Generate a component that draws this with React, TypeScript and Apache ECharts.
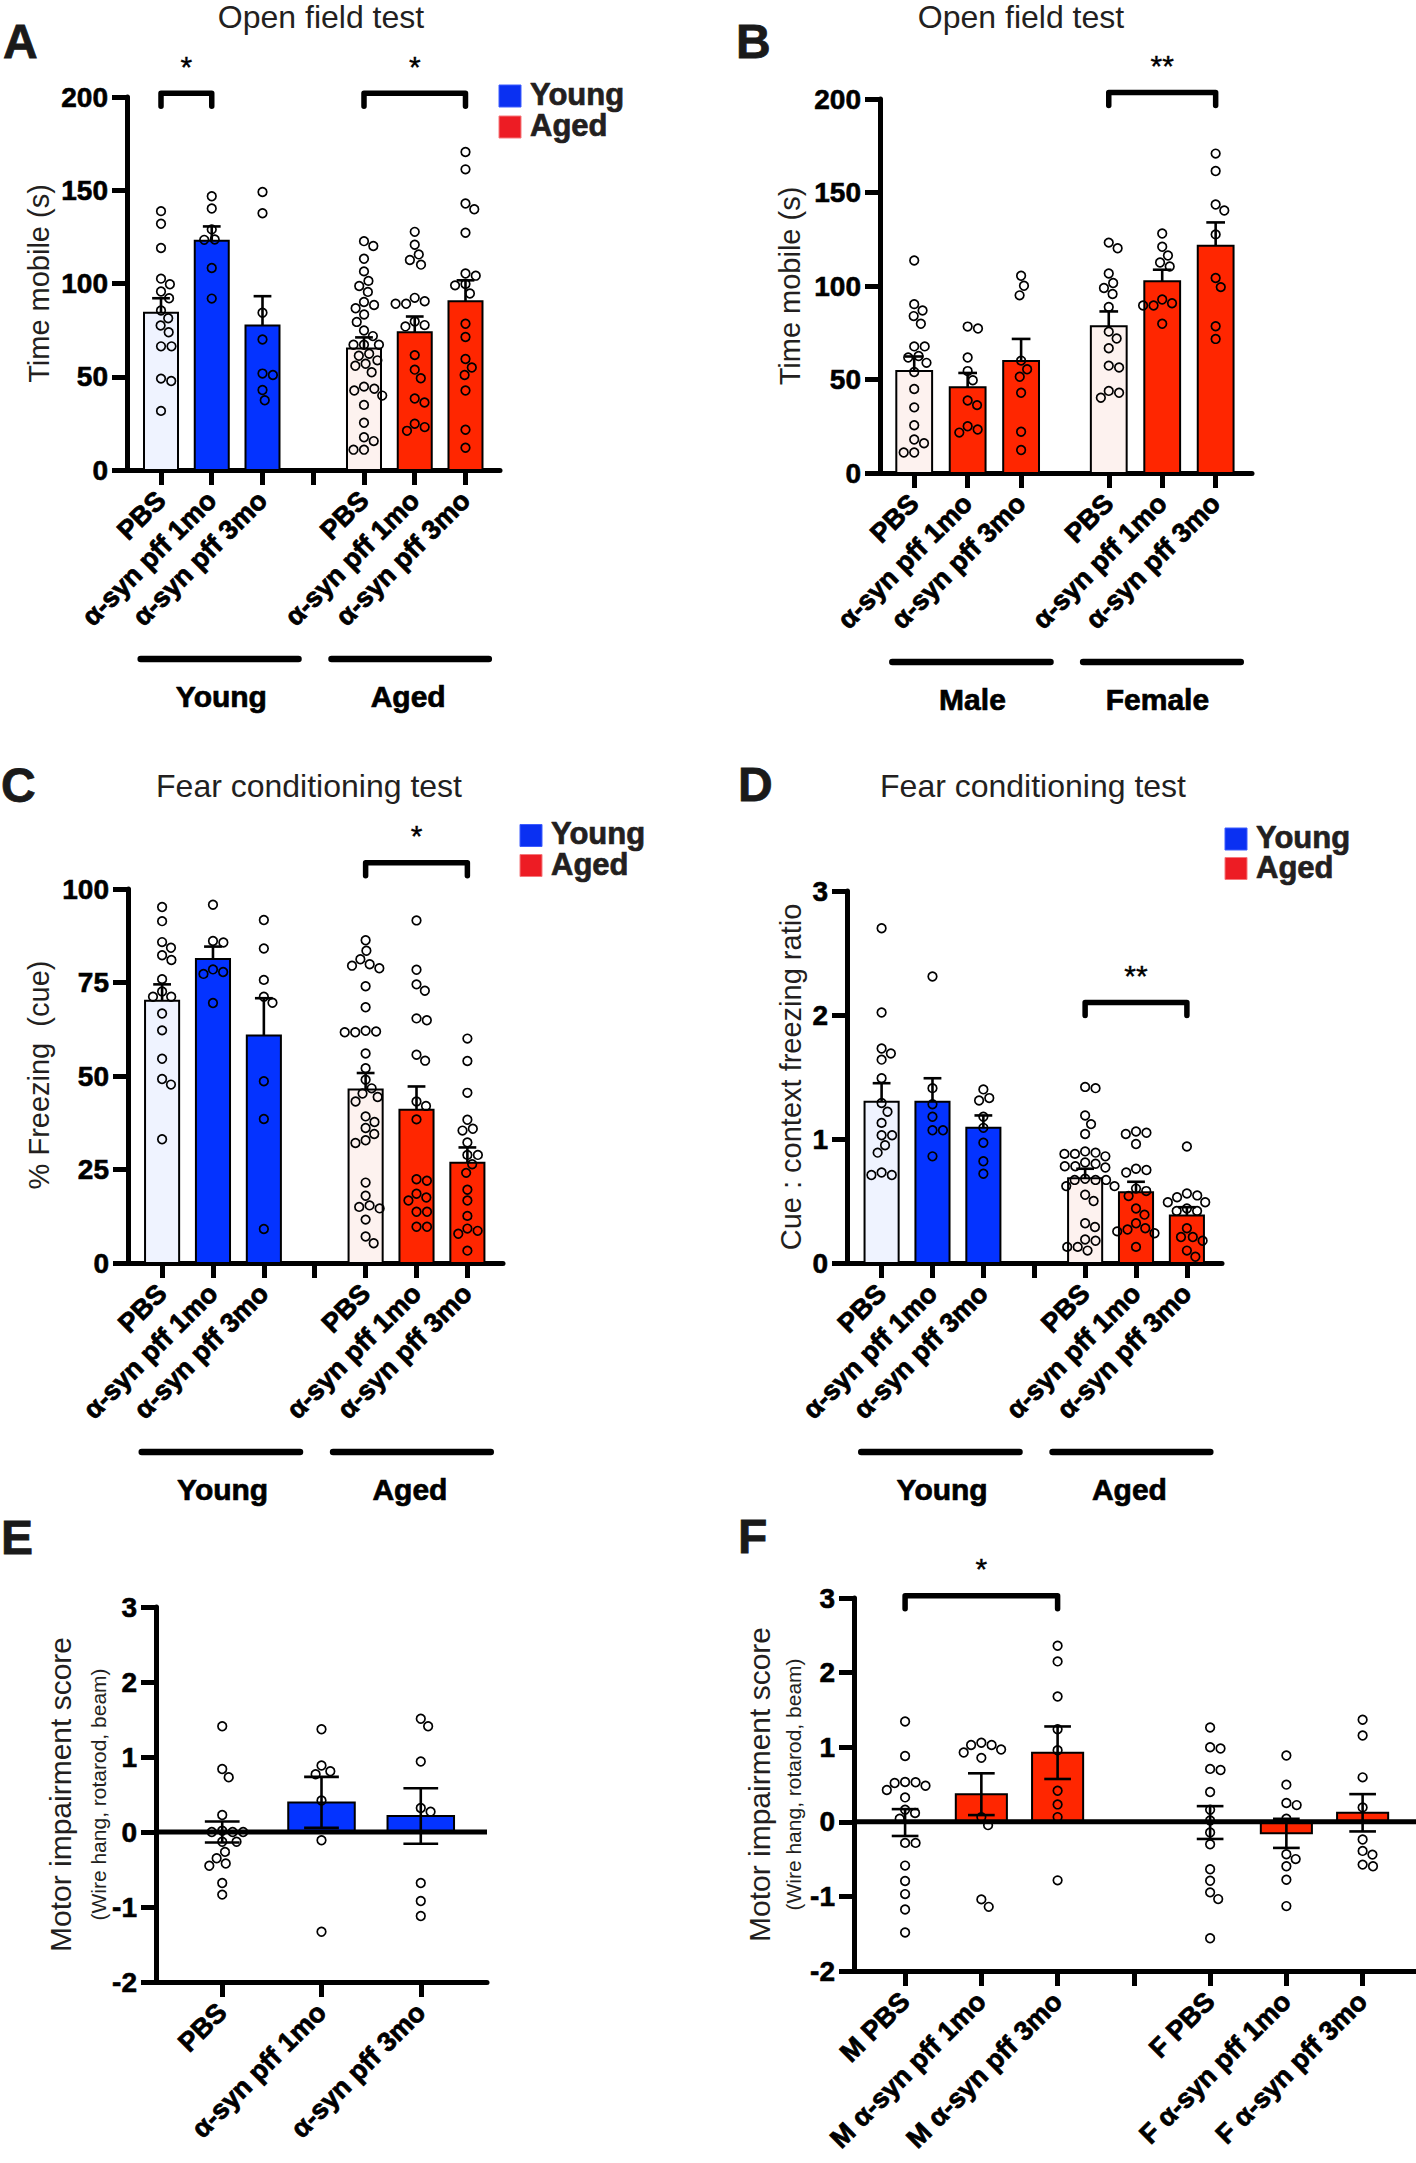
import React, { useEffect, useRef } from 'react';
import * as echarts from 'echarts';

const FONT = '"Liberation Sans", Arial, Helvetica, sans-serif';
const BLUE = '#0433ff';
const RED = '#ff2600';
const PBS_Y = '#eff3ff';
const PBS_A = '#fdf2ef';
const LEG_BLUE = '#0a30f2';
const LEG_RED = '#ed1c24';

// ---------------- categories ----------------
const ageGroupLabels = ['PBS', 'α-syn pff 1mo', 'α-syn pff 3mo', 'PBS', 'α-syn pff 1mo', 'α-syn pff 3mo'];
const motorLabels = ['PBS', 'α-syn pff 1mo', 'α-syn pff 3mo'];
const sexMotorLabels = ['M PBS', 'M α-syn pff 1mo', 'M α-syn pff 3mo', 'F PBS', 'F α-syn pff 1mo', 'F α-syn pff 3mo'];

// ---------------- A: open field, young vs aged ----------------
const A_means = [84.3, 122.9, 77.5, 65.2, 73.9, 90.5];
const A_sems = [7.8, 7.7, 15.7, 5.9, 8.4, 11.2];
const A_youngPBS = [138.8, 132, 119, 102.6, 99.6, 95.7, 92.1, 85.5, 81.4, 77.5, 73.9, 66.3, 66.3, 49, 47.7, 31.7];
const A_young1mo = [146.8, 140.2, 129, 123.4, 123.6, 108.3, 91.9];
const A_young3mo = [149.1, 137.7, 84.3, 70, 51.7, 50.9, 42.9, 37.4];
const A_agedPBS = [122.7, 120.1, 113.3, 106.5, 101.4, 98.7, 95.5, 90.1, 86.7, 88.5, 83.4, 79.4, 74.8, 71.8, 67.2, 67.2, 67.2, 62.3, 61.3, 58.8, 55.9, 57, 52.4, 44.7, 42.6, 43.6, 39.9, 34.9, 25.3, 15.5, 17.6, 10.9, 10.9];
const A_aged1mo = [127.7, 120.8, 115.6, 110.1, 112.6, 92.3, 89.1, 89.1, 90.5, 79.6, 77, 77.7, 61.6, 53.8, 49.2, 38.3, 36.2, 24.8, 21, 23];
const A_aged3mo = [170.5, 161.2, 139.8, 142.9, 127.2, 104.2, 105.4, 99, 99.7, 94.6, 78.4, 71.3, 59.5, 55, 50.9, 42.6, 21.6, 11.9];

// ---------------- B: open field, male vs female (aged) ----------------
const B_means = [54.5, 45.9, 59.9, 78.5, 102.6, 121.5];
const B_sems = [7.8, 7.6, 11.8, 7.9, 6.1, 12.5];
const B_malePBS = [113.6, 90.3, 86.9, 83.9, 79.8, 67.7, 67.7, 62.6, 61.8, 58.9, 54, 44.9, 35.1, 25.5, 15.9, 17.9, 11, 11];
const B_male1mo = [77.3, 78.3, 61.8, 54.5, 49.6, 38.8, 36.3, 25, 21.6, 23.3];
const B_male3mo = [105.5, 100.1, 95, 60.1, 55.5, 51.5, 42.9, 22.1, 12.3];
const B_femalePBS = [123.2, 120.2, 106.7, 101.6, 98.9, 95.7, 88.8, 75.6, 71.9, 66.7, 57.4, 56.4, 43.9, 40.2, 42.9];
const B_female1mo = [128.1, 121, 116.3, 112.6, 110.4, 92.8, 89.6, 89.6, 90.8, 79.8];
const B_female3mo = [170.8, 161.5, 140.4, 143.6, 127.6, 99.4, 104.3, 78.5, 71.7];

// ---------------- C: fear conditioning, % freezing ----------------
const C_means = [70.1, 81.3, 60.8, 46.4, 41.0, 26.8];
const C_sems = [4.4, 3.3, 10.0, 4.4, 6.2, 4.1];
const C_youngPBS = [95.2, 91.4, 85.8, 84.3, 82.3, 81, 75.9, 71.2, 71.2, 72.6, 66.7, 62.2, 54.6, 49.2, 47.7, 33.1];
const C_young1mo = [95.8, 85.7, 86.1, 77.8, 77.3, 78.5, 69.5];
const C_young3mo = [91.7, 84.1, 75.7, 71.2, 69.6, 48.6, 38.5, 9.1];
const C_agedPBS = [86.3, 83.5, 81.2, 79.5, 78.8, 79.9, 74, 68.4, 61.9, 61.7, 61.7, 62.1, 56, 52.1, 49, 46.7, 45.3, 44.4, 43.2, 39.2, 37.7, 36.1, 34.5, 32.8, 32.1, 21.5, 18, 15.4, 14.6, 15, 11.6, 7.1, 5.3];
const C_aged1mo = [91.6, 78.4, 72.8, 74.5, 65.4, 64.9, 54.1, 55.7, 43.2, 42, 38.4, 22.4, 22, 18.5, 16.7, 17.5, 13.7, 13.7, 9.7, 9.7];
const C_aged3mo = [60, 54, 45.5, 38.3, 35.9, 35.4, 32.2, 28.9, 28.9, 26.4, 24.1, 19.6, 16.7, 12.6, 8.6, 7.8, 9.2, 3.3];

// ---------------- D: cue : context freezing ratio ----------------
const D_means = [1.30, 1.30, 1.09, 0.684, 0.57, 0.384];
const D_sems = [0.15, 0.19, 0.10, 0.076, 0.085, 0.066];
const D_youngPBS = [2.70, 2.02, 1.73, 1.69, 1.64, 1.49, 1.29, 1.22, 1.13, 1.03, 1.03, 0.95, 0.89, 0.73, 0.71, 0.71];
const D_young1mo = [2.31, 1.41, 1.28, 1.18, 1.07, 1.07, 0.86];
const D_young3mo = [1.40, 1.31, 1.33, 1.18, 1.09, 0.97, 0.82, 0.72];
const D_agedPBS = [1.41, 1.42, 1.19, 1.12, 1.04, 0.89, 0.88, 0.90, 0.86, 0.88, 0.81, 0.80, 0.77, 0.78, 0.78, 0.67, 0.67, 0.68, 0.67, 0.62, 0.62, 0.55, 0.50, 0.29, 0.32, 0.19, 0.18, 0.13, 0.13, 0.10];
const D_aged1mo = [1.04, 1.06, 1.05, 0.96, 0.76, 0.73, 0.75, 0.60, 0.58, 0.54, 0.44, 0.39, 0.32, 0.28, 0.24, 0.255, 0.27, 0.13];
const D_aged3mo = [0.94, 0.56, 0.53, 0.545, 0.49, 0.49, 0.44, 0.42, 0.42, 0.28, 0.21, 0.21, 0.18, 0.10, 0.05];

// ---------------- E: motor impairment, young ----------------
const E_means = [0.0, 0.395, 0.214];
const E_sems = [0.14, 0.34, 0.37];
const E_PBS = [1.41, 0.84, 0.73, 0.226, 0, 0, 0, 0.017, -0.13, -0.13, -0.265, -0.35, -0.42, -0.45, -0.68, -0.835];
const E_1mo = [1.37, 0.81, 0.77, 0.886, 0.42, -0.11, -1.33];
const E_3mo = [1.51, 1.41, 0.94, 0.32, 0.27, -0.68, -0.92, -1.12];

// ---------------- F: motor impairment, aged male / female ----------------
const F_means = [-0.01, 0.37, 0.926, -0.01, -0.155, 0.121];
const F_sems = [0.18, 0.28, 0.352, 0.22, 0.195, 0.25];
const F_MPBS = [1.345, 0.883, 0.53, 0.426, 0.484, 0.52, 0.534, 0.327, 0.161, 0.117, 0.04, -0.283, -0.283, -0.587, -0.794, -0.969, -1.175, -1.484];
const F_M1mo = [1.03, 0.97, 1.03, 0.93, 1.06, 0.857, 0.063, -0.045, -1.04, -1.14];
const F_M3mo = [2.36, 2.15, 1.68, 1.24, 0.96, 0.417, 0.233, 0.063, -0.785];
const F_FPBS = [1.265, 1.0, 0.982, 0.695, 0.709, 0.4, 0.161, 0.018, -0.143, -0.3, -0.637, -0.79, -0.946, -1.036, -1.561];
const F_F1mo = [0.888, 0.498, 0.251, 0.224, 0.04, -0.435, -0.5, -0.596, -0.776, -1.13];
const F_F3mo = [1.368, 1.157, 0.596, 0.193, -0.238, -0.39, -0.44, -0.596, -0.574];

// ---------------- significance ----------------
const A_sig = [{ from: 0, to: 1, y: 202, text: '*' }, { from: 4, to: 6, y: 202, text: '*' }];
const B_sig = [{ from: 3.64, to: 5.64, y: 203.5, text: '**' }];
const C_sig = [{ from: 4, to: 6, y: 107, text: '*' }];
const D_sig = [{ from: 4, to: 6, y: 2.1, text: '**' }];
const F_sig = [{ from: 0, to: 2, y: 3.03, text: '*' }];

// ---------------- layout ----------------
const BAR = 0.67;
const CAP = 0.35;
const AXW = 5;
const ticks7 = [0, 1, 2, 3, 4, 5, 6];
const pos6 = [0, 1, 2, 4, 5, 6];
const posB = [0, 1, 2, 3.64, 4.64, 5.64];
const ageGroups = [
  { from: -0.4, to: 2.71, at: 1.19, text: 'Young' },
  { from: 3.36, to: 6.46, at: 4.87, text: 'Aged' },
];
const sexGroups = [
  { from: -0.41, to: 2.55, at: 1.09, text: 'Male' },
  { from: 3.16, to: 6.11, at: 4.55, text: 'Female' },
];

interface Panel {
  grid: { left: number; top: number; width: number; height: number };
  x: [number, number];
  y: [number, number, number];
  ticks: number[];
  pos: number[];
  labels: string[];
  means: number[];
  sems: number[];
  points: number[][];
  colors: string[];
  both: boolean;
  zero: boolean;
  sig: { from: number; to: number; y: number; text: string }[];
  groups: { from: number; to: number; at: number; text: string }[];
}

const panels: Panel[] = [
  {
    grid: { left: 127, top: 97, width: 373, height: 373 }, x: [-0.67, 6.68], y: [0, 200, 50],
    ticks: ticks7, pos: pos6, labels: ageGroupLabels, means: A_means, sems: A_sems,
    points: [A_youngPBS, A_young1mo, A_young3mo, A_agedPBS, A_aged1mo, A_aged3mo],
    colors: [PBS_Y, BLUE, BLUE, PBS_A, RED, RED], both: false, zero: false, sig: A_sig, groups: ageGroups,
  },
  {
    grid: { left: 880, top: 99, width: 372, height: 374 }, x: [-0.64, 6.32], y: [0, 200, 50],
    ticks: posB, pos: posB, labels: ageGroupLabels, means: B_means, sems: B_sems,
    points: [B_malePBS, B_male1mo, B_male3mo, B_femalePBS, B_female1mo, B_female3mo],
    colors: [PBS_A, RED, RED, PBS_A, RED, RED], both: false, zero: false, sig: B_sig, groups: sexGroups,
  },
  {
    grid: { left: 128, top: 889, width: 375, height: 374 }, x: [-0.67, 6.7], y: [0, 100, 25],
    ticks: ticks7, pos: pos6, labels: ageGroupLabels, means: C_means, sems: C_sems,
    points: [C_youngPBS, C_young1mo, C_young3mo, C_agedPBS, C_aged1mo, C_aged3mo],
    colors: [PBS_Y, BLUE, BLUE, PBS_A, RED, RED], both: false, zero: false, sig: C_sig, groups: ageGroups,
  },
  {
    grid: { left: 847, top: 891, width: 375, height: 372 }, x: [-0.68, 6.69], y: [0, 3, 1],
    ticks: ticks7, pos: pos6, labels: ageGroupLabels, means: D_means, sems: D_sems,
    points: [D_youngPBS, D_young1mo, D_young3mo, D_agedPBS, D_aged1mo, D_aged3mo],
    colors: [PBS_Y, BLUE, BLUE, PBS_A, RED, RED], both: false, zero: false, sig: D_sig, groups: ageGroups,
  },
  {
    grid: { left: 156, top: 1607, width: 331, height: 375 }, x: [-0.667, 2.667], y: [-2, 3, 1],
    ticks: [0, 1, 2], pos: [0, 1, 2], labels: motorLabels, means: E_means, sems: E_sems,
    points: [E_PBS, E_1mo, E_3mo],
    colors: [PBS_Y, BLUE, BLUE], both: true, zero: true, sig: [], groups: [],
  },
  {
    grid: { left: 854, top: 1598, width: 562, height: 373 }, x: [-0.67, 6.7], y: [-2, 3, 1],
    ticks: ticks7, pos: pos6, labels: sexMotorLabels, means: F_means, sems: F_sems,
    points: [F_MPBS, F_M1mo, F_M3mo, F_FPBS, F_F1mo, F_F3mo],
    colors: [PBS_A, RED, RED, PBS_A, RED, RED], both: true, zero: true, sig: F_sig, groups: [],
  },
];

// beeswarm: horizontal pixel offsets so circles do not overlap
function swarm(vals: number[], pxPerUnit: number, D: number): number[] {
  const order = vals.map((_, i) => i).sort((a, b) => vals[b] - vals[a]);
  const placed: { x: number; y: number }[] = [];
  const out = new Array(vals.length).fill(0);
  for (const i of order) {
    const y = vals[i] * pxPerUnit;
    const cands = [0];
    for (const p of placed) {
      const dy = Math.abs(p.y - y);
      if (dy < D) {
        const dx = Math.sqrt(D * D - dy * dy);
        cands.push(p.x + dx, p.x - dx);
      }
    }
    cands.sort((a, b) => Math.abs(a) - Math.abs(b) || b - a);
    let chosen = 0;
    for (const c of cands) {
      if (placed.every((p) => (p.x - c) ** 2 + (p.y - y) ** 2 >= D * D - 0.01)) {
        chosen = c;
        break;
      }
    }
    out[i] = chosen;
    placed.push({ x: chosen, y });
  }
  return out;
}

function txt(text: string, x: number, y: number, size: number, weight: string, opt: any = {}) {
  const align = opt.align || 'center';
  const fill = opt.fill || '#000';
  const style: any = {
    text,
    fontSize: size,
    fontWeight: weight,
    fontFamily: FONT,
    fill,
    align,
    textAlign: align,
    verticalAlign: 'middle',
    textVerticalAlign: 'middle',
  };
  if (opt.lh) style.lineHeight = opt.lh;
  if (opt.border) {
    style.stroke = fill;
    style.lineWidth = opt.border;
  }
  return { type: 'text', x, y, rotation: opt.rot || 0, silent: true, style };
}

function buildOption() {
  const grid: any[] = [];
  const xAxis: any[] = [];
  const yAxis: any[] = [];
  const series: any[] = [];

  panels.forEach((p, k) => {
    grid.push({ ...p.grid, containLabel: false, outerBoundsMode: 'none' });
    xAxis.push({
      type: 'value',
      gridIndex: k,
      min: p.x[0],
      max: p.x[1],
      splitLine: { show: false },
      axisLine: { show: true, onZero: false, lineStyle: { color: '#000', width: AXW } },
      axisTick: { show: true, customValues: p.ticks, length: 15, lineStyle: { color: '#000', width: AXW } },
      axisLabel: {
        show: true,
        customValues: p.pos,
        formatter: (v: number) => {
          const i = p.pos.findIndex((q) => Math.abs(q - v) < 1e-6);
          return i >= 0 ? p.labels[i] : '';
        },
        rotate: 45,
        align: 'right',
        verticalAlign: 'middle',
        margin: 26,
        fontSize: 27,
        fontWeight: 'bold',
        fontFamily: FONT,
        color: '#000',
        textBorderColor: '#000',
        textBorderWidth: 0.8,
      },
    });
    yAxis.push({
      type: 'value',
      gridIndex: k,
      min: p.y[0],
      max: p.y[1],
      interval: p.y[2],
      splitLine: { show: false },
      axisLine: { show: true, onZero: false, lineStyle: { color: '#000', width: AXW } },
      axisTick: { show: true, length: 15, lineStyle: { color: '#000', width: AXW } },
      axisLabel: {
        fontSize: 28,
        fontWeight: 'bold',
        fontFamily: FONT,
        color: '#000',
        margin: 19,
        textBorderColor: '#000',
        textBorderWidth: 0.6,
      },
    });

    // bars
    series.push({
      type: 'custom',
      xAxisIndex: k,
      yAxisIndex: k,
      z: 2,
      clip: false,
      silent: true,
      data: p.pos.map((x, i) => [x, p.means[i], p.sems[i]]),
      encode: { x: 0, y: 1 },
      renderItem: (params: any, api: any) => {
        const x = api.value(0);
        const m = api.value(1);
        const a = api.coord([x, 0]);
        const b = api.coord([x, m]);
        const w = api.size([BAR, 0])[0];
        return {
          type: 'rect',
          shape: { x: a[0] - w / 2, y: Math.min(a[1], b[1]), width: w, height: Math.abs(a[1] - b[1]) },
          style: { fill: p.colors[params.dataIndex], stroke: '#000', lineWidth: 2 },
        };
      },
    });

    // zero line for motor score panels
    if (p.zero) {
      series.push({
        type: 'custom',
        xAxisIndex: k,
        yAxisIndex: k,
        z: 3,
        clip: false,
        silent: true,
        data: [[p.x[0], 0, p.x[1]]],
        encode: { x: 0, y: 1 },
        renderItem: (params: any, api: any) => {
          const a = api.coord([api.value(0), api.value(1)]);
          const b = api.coord([api.value(2), api.value(1)]);
          return { type: 'line', shape: { x1: a[0], y1: a[1], x2: b[0], y2: b[1] }, style: { stroke: '#000', lineWidth: AXW } };
        },
      });
    }

    // points (beeswarm)
    const pxPerUnit = p.grid.height / (p.y[1] - p.y[0]);
    const pxPerX = p.grid.width / (p.x[1] - p.x[0]);
    const pts: number[][] = [];
    p.points.forEach((vals, i) => {
      const off = swarm(vals, pxPerUnit, 10.5);
      vals.forEach((v, j) => pts.push([p.pos[i] + off[j] / pxPerX, v]));
    });
    series.push({
      type: 'scatter',
      xAxisIndex: k,
      yAxisIndex: k,
      z: 4,
      silent: true,
      symbol: 'circle',
      symbolSize: 8.6,
      itemStyle: { color: 'rgba(0,0,0,0)', borderColor: '#000', borderWidth: 1.7, opacity: 1 },
      emphasis: { disabled: true },
      data: pts,
    });

    // error bars
    series.push({
      type: 'custom',
      xAxisIndex: k,
      yAxisIndex: k,
      z: 5,
      clip: false,
      silent: true,
      data: p.pos.map((x, i) => [x, p.means[i], p.sems[i]]),
      encode: { x: 0, y: 1 },
      renderItem: (params: any, api: any) => {
        const x = api.value(0);
        const m = api.value(1);
        const s = api.value(2);
        const top = api.coord([x, m + s]);
        const bot = api.coord([x, p.both ? m - s : m]);
        const cw = api.size([CAP, 0])[0] / 2;
        const st = { stroke: '#000', lineWidth: 2.6 };
        const children: any[] = [
          { type: 'line', shape: { x1: top[0], y1: top[1], x2: bot[0], y2: bot[1] }, style: st },
          { type: 'line', shape: { x1: top[0] - cw, y1: top[1], x2: top[0] + cw, y2: top[1] }, style: st },
        ];
        if (p.both) children.push({ type: 'line', shape: { x1: bot[0] - cw, y1: bot[1], x2: bot[0] + cw, y2: bot[1] }, style: st });
        return { type: 'group', children };
      },
    });

    // significance brackets
    if (p.sig.length) {
      series.push({
        type: 'custom',
        xAxisIndex: k,
        yAxisIndex: k,
        z: 6,
        clip: false,
        silent: true,
        data: p.sig.map((s) => [s.from, s.y, s.to]),
        encode: { x: 0, y: 1 },
        renderItem: (params: any, api: any) => {
          const s = p.sig[params.dataIndex];
          const l = api.coord([api.value(0), api.value(1)]);
          const r = api.coord([api.value(2), api.value(1)]);
          return {
            type: 'group',
            children: [
              {
                type: 'polyline',
                shape: { points: [[l[0], l[1] + 13], [l[0], l[1]], [r[0], r[1]], [r[0], r[1] + 13]] },
                style: { stroke: '#000', lineWidth: 5.5, fill: 'none', lineCap: 'round', lineJoin: 'round' },
              },
              {
                type: 'text',
                x: (l[0] + r[0]) / 2,
                y: l[1] - 27,
                style: {
                  text: s.text, fontSize: 30, fontFamily: FONT, fill: '#000', stroke: '#000', lineWidth: 0.4,
                  align: 'center', textAlign: 'center', verticalAlign: 'middle', textVerticalAlign: 'middle',
                },
              },
            ],
          };
        },
      });
    }

    // group lines + labels under the axis
    if (p.groups.length) {
      series.push({
        type: 'custom',
        xAxisIndex: k,
        yAxisIndex: k,
        z: 6,
        clip: false,
        silent: true,
        data: p.groups.map((g) => [g.from, p.y[0], g.to, g.at]),
        encode: { x: 0, y: 1 },
        renderItem: (params: any, api: any) => {
          const g = p.groups[params.dataIndex];
          const l = api.coord([api.value(0), api.value(1)]);
          const r = api.coord([api.value(2), api.value(1)]);
          const c = api.coord([api.value(3), api.value(1)]);
          return {
            type: 'group',
            children: [
              { type: 'line', shape: { x1: l[0], y1: l[1] + 189, x2: r[0], y2: r[1] + 189 }, style: { stroke: '#000', lineWidth: 6.5, lineCap: 'round' } },
              {
                type: 'text',
                x: c[0],
                y: c[1] + 226,
                style: {
                  text: g.text, fontSize: 30, fontWeight: 'bold', fontFamily: FONT, fill: '#000', stroke: '#000', lineWidth: 0.7,
                  align: 'center', textAlign: 'center', verticalAlign: 'middle', textVerticalAlign: 'middle',
                },
              },
            ],
          };
        },
      });
    }
  });

  const TITLE = '#231f20';
  const R = Math.PI / 2;
  const L = { align: 'left', fill: '#1a1a1a', border: 0.8 };
  const graphic: any[] = [
    // panel letters
    txt('A', 3, 41, 48, 'bold', L),
    txt('B', 736, 41, 48, 'bold', L),
    txt('C', 1, 785.5, 48, 'bold', L),
    txt('D', 738, 784.5, 48, 'bold', L),
    txt('E', 1, 1537, 48, 'bold', L),
    txt('F', 738, 1536, 48, 'bold', L),
    // titles
    txt('Open field test', 321, 17, 32, 'normal', { fill: TITLE, lh: 32 }),
    txt('Open field test', 1021, 17, 32, 'normal', { fill: TITLE, lh: 32 }),
    txt('Fear conditioning test', 309, 786, 32, 'normal', { fill: TITLE }),
    txt('Fear conditioning test', 1033, 786, 32, 'normal', { fill: TITLE }),
    // y-axis titles
    txt('Time mobile (s)', 39, 283.5, 29, 'normal', { rot: R, fill: TITLE }),
    txt('Time mobile (s)', 790, 286, 29, 'normal', { rot: R, fill: TITLE }),
    txt('% Freezing  (cue)', 39, 1075, 29, 'normal', { rot: R, fill: TITLE }),
    txt('Cue : context freezing ratio', 791, 1077, 29, 'normal', { rot: R, fill: TITLE }),
    txt('Motor impairment score', 60, 1794.5, 30, 'normal', { rot: R, fill: TITLE }),
    txt('(Wire hang, rotarod, beam)', 98, 1794.5, 21, 'normal', { rot: R, fill: TITLE }),
    txt('Motor impairment score', 759, 1784.5, 30, 'normal', { rot: R, fill: TITLE }),
    txt('(Wire hang, rotarod, beam)', 793.5, 1784.5, 21, 'normal', { rot: R, fill: TITLE }),
  ];
  // legends
  const legends = [
    { x: 499, y1: 85, y2: 116 },
    { x: 520, y1: 824.5, y2: 854.5 },
    { x: 1225, y1: 828, y2: 857.5 },
  ];
  legends.forEach((l) => {
    graphic.push({ type: 'rect', silent: true, shape: { x: l.x, y: l.y1, width: 22, height: 22 }, style: { fill: LEG_BLUE, stroke: '#3d5cff', lineWidth: 1 } });
    graphic.push({ type: 'rect', silent: true, shape: { x: l.x, y: l.y2, width: 22, height: 22 }, style: { fill: LEG_RED, stroke: '#f5787c', lineWidth: 1 } });
    graphic.push(txt('Young', l.x + 31, l.y1 + 9, 31, 'bold', { align: 'left', fill: TITLE, lh: 26, border: 0.7 }));
    graphic.push(txt('Aged', l.x + 31, l.y2 + 9.5, 31, 'bold', { align: 'left', fill: TITLE, lh: 26, border: 0.7 }));
  });

  return {
    animation: false,
    backgroundColor: '#ffffff',
    textStyle: { fontFamily: FONT },
    grid,
    xAxis,
    yAxis,
    series,
    graphic: { elements: graphic },
  };
}

export default function App() {
  const ref = useRef<HTMLDivElement>(null);
  useEffect(() => {
    if (!ref.current) return;
    const chart = echarts.init(ref.current, undefined, { renderer: 'svg', width: 1416, height: 2163 });
    chart.setOption(buildOption() as any);
    return () => chart.dispose();
  }, []);
  return (
    <div
      ref={ref}
      style={{ position: 'absolute', left: 0, top: 0, width: 1416, height: 2163, background: '#fff' }}
    />
  );
}
